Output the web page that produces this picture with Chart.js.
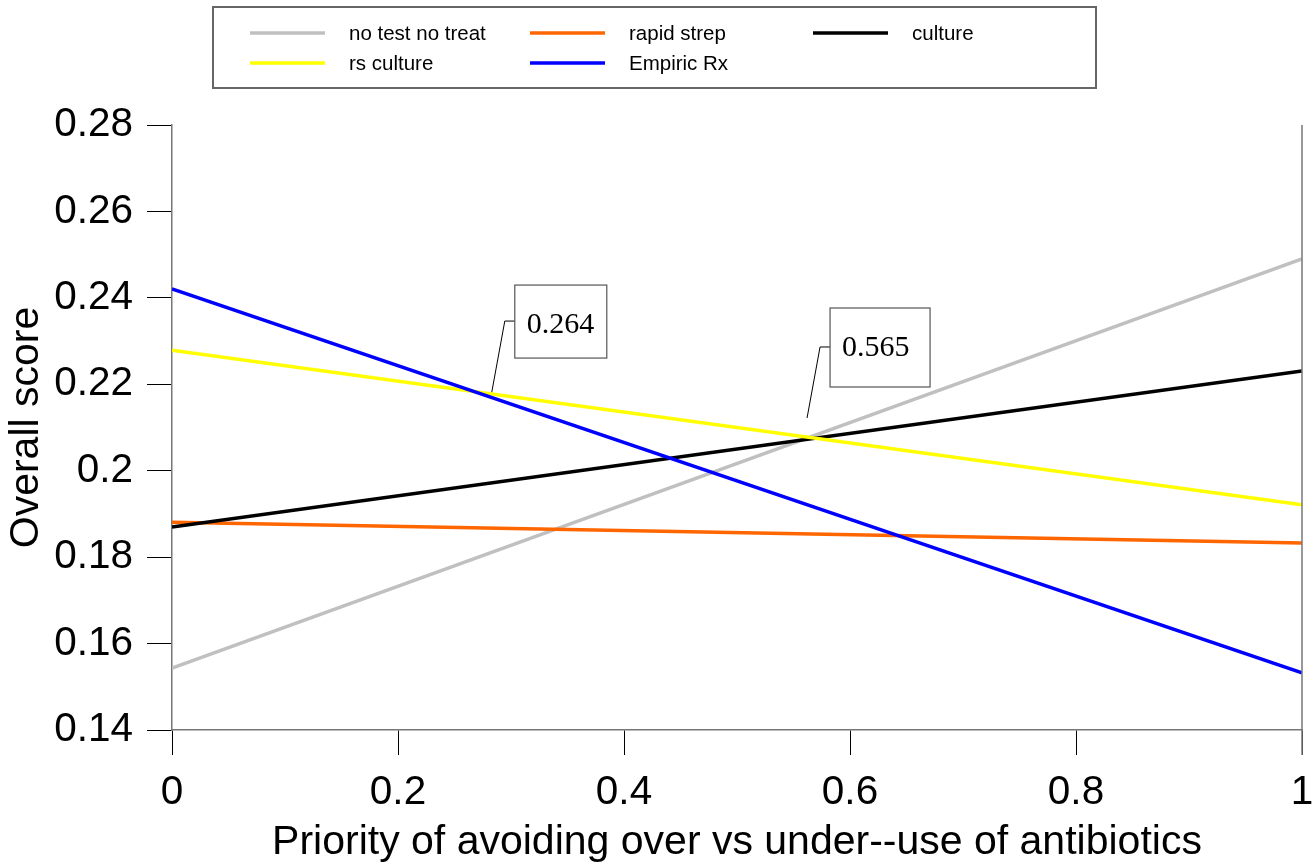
<!DOCTYPE html>
<html>
<head>
<meta charset="utf-8">
<script src="https://cdn.jsdelivr.net/npm/chart.js@4/dist/chart.umd.min.js"></script>
<style>
    html, body { margin: 0; padding: 0; background: #fff; }
    #wrap { width: 1314px; height: 865px; position: relative; }
</style>
</head>
<body>
<div id="wrap"><canvas id="chart"></canvas></div>
<script>
// ============= Data =============
const xValues = [0, 1];
const noTestNoTreat = [0.1543, 0.2490];
const rapidStrep = [0.1881, 0.1833];
const culture = [0.1870, 0.2231];
const rsCulture = [0.2279, 0.1921];
const empiricRx = [0.2421, 0.1532];

const xTickValues = [0, 0.2, 0.4, 0.6, 0.8, 1];
const yTickValues = [0.14, 0.16, 0.18, 0.2, 0.22, 0.24, 0.26, 0.28];

// threshold callouts: label, anchor point on the rs culture line
const calloutLabels = ['0.264', '0.565'];
const calloutX = [0.283, 0.562];
const calloutY = [0.2182, 0.2122];

const FONT = "'Liberation Sans', Arial, sans-serif";

function toPoints(ys) {
    return xValues.map((x, i) => ({ x: x, y: ys[i] }));
}

function makeSet(label, ys, color, order) {
    return {
        label: label,
        data: toPoints(ys),
        borderColor: color,
        backgroundColor: color,
        borderWidth: 3.5,
        pointRadius: 0,
        tension: 0,
        order: order
    };
}

// ============= Plugins =============
const frameAndCallouts = {
    id: 'frameAndCallouts',
    afterDatasetsDraw(chart) {
        const { ctx, chartArea, scales } = chart;
        ctx.save();

        // right frame line
        ctx.strokeStyle = '#777';
        ctx.lineWidth = 1.5;
        ctx.beginPath();
        ctx.moveTo(chartArea.right, chartArea.top);
        ctx.lineTo(chartArea.right, chartArea.bottom + 25);
        ctx.stroke();

        // callouts
        calloutLabels.forEach((txt, i) => {
            const ax = scales.x.getPixelForValue(calloutX[i]);
            const ay = scales.y.getPixelForValue(calloutY[i]);
            const ex = ax + 13;
            const ey = ay - 71;
            ctx.strokeStyle = '#000';
            ctx.lineWidth = 1;
            ctx.beginPath();
            ctx.moveTo(ax, ay);
            ctx.lineTo(ex, ey);
            ctx.lineTo(ex + 10, ey);
            ctx.stroke();

            const bw = i === 0 ? 92 : 100;
            const bh = i === 0 ? 73 : 79;
            const bx = ex + 10;
            const by = ey - (i === 0 ? 36 : 39);
            ctx.fillStyle = '#fff';
            ctx.fillRect(bx, by, bw, bh);
            ctx.strokeStyle = '#555';
            ctx.lineWidth = 1.2;
            ctx.strokeRect(bx, by, bw, bh);

            ctx.fillStyle = '#000';
            ctx.font = "30px 'Liberation Serif', 'Times New Roman', serif";
            ctx.textAlign = 'left';
            ctx.textBaseline = 'middle';
            ctx.fillText(txt, bx + 12, by + 40);
        });
        ctx.restore();
    },
    afterDraw(chart) {
        const { ctx } = chart;
        ctx.save();
        ctx.strokeStyle = '#666';
        ctx.lineWidth = 2;
        ctx.strokeRect(213, 7, 883, 81);

        const colX = [250, 530, 813];
        const rowY = [33, 63];
        ctx.font = '20.5px ' + FONT;
        ctx.textAlign = 'left';
        ctx.textBaseline = 'middle';
        chart.data.datasets.forEach((ds, i) => {
            const x = colX[i % 3];
            const y = rowY[Math.floor(i / 3)];
            ctx.strokeStyle = ds.borderColor;
            ctx.lineWidth = 3.5;
            ctx.beginPath();
            ctx.moveTo(x, y);
            ctx.lineTo(x + 75, y);
            ctx.stroke();
            ctx.fillStyle = '#000';
            ctx.fillText(ds.label, x + 99, y + 1);
        });
        ctx.restore();
    }
};

// ============= Chart =============
const tickFont = { family: FONT, size: 40.5, lineHeight: 1.2 };
const titleFont = { family: FONT, size: 41, lineHeight: 1.1 };

new Chart(document.getElementById('chart'), {
    type: 'line',
    data: {
        datasets: [
            makeSet('no test no treat', noTestNoTreat, '#c0c0c0', 4),
            makeSet('rapid strep', rapidStrep, '#ff6600', 3),
            makeSet('culture', culture, '#000000', 2),
            makeSet('rs culture', rsCulture, '#ffff00', 1),
            makeSet('Empiric Rx', empiricRx, '#0000ff', 0)
        ]
    },
    options: {
        responsive: true,
        maintainAspectRatio: false,
        animation: false,
        layout: { padding: { top: 125, right: 12, left: 0, bottom: 0 } },
        plugins: {
            legend: { display: false },
            tooltip: { enabled: false }
        },
        scales: {
            x: {
                type: 'linear',
                min: 0,
                max: 1,
                afterBuildTicks: s => { s.ticks = xTickValues.map(v => ({ value: v })); },
                afterFit: s => { s.height = 135; s.paddingLeft = 0; s.paddingRight = 0; },
                ticks: {
                    color: '#000',
                    font: tickFont,
                    padding: 14,
                    maxRotation: 0,
                    callback: v => String(+v.toFixed(2))
                },
                grid: { drawOnChartArea: false, drawTicks: true, tickLength: 25, color: '#000', lineWidth: 1 },
                border: { color: '#777', width: 1.5 },
                title: {
                    display: true,
                    text: 'Priority of avoiding over vs under--use of antibiotics',
                    color: '#000',
                    font: titleFont,
                    padding: 0
                }
            },
            y: {
                min: 0.14,
                max: 0.28,
                afterBuildTicks: s => { s.ticks = yTickValues.map(v => ({ value: v })); },
                afterFit: s => { s.width = 172; s.paddingTop = 0; s.paddingBottom = 0; },
                ticks: {
                    color: '#000',
                    font: tickFont,
                    padding: 14,
                    callback: v => String(+v.toFixed(2))
                },
                grid: { drawOnChartArea: false, drawTicks: true, tickLength: 25, color: '#000', lineWidth: 1 },
                border: { color: '#777', width: 1.5 },
                title: {
                    display: true,
                    text: 'Overall score',
                    color: '#000',
                    font: titleFont,
                    padding: { top: 4.5, bottom: 0 }
                }
            }
        }
    },
    plugins: [frameAndCallouts]
});
</script>
</body>
</html>
